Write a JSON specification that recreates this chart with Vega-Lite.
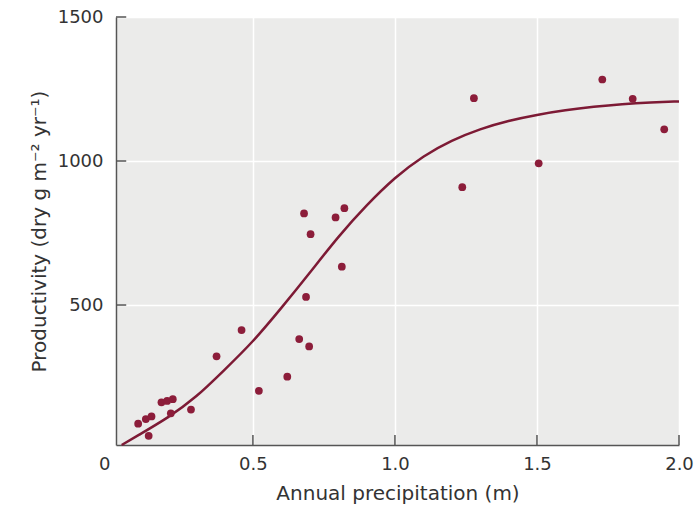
{
  "$schema": "https://vega.github.io/schema/vega-lite/v6.json",
  "width": 563,
  "height": 428,
  "autosize": {"type": "none"},
  "padding": {"left": 116, "top": 17, "right": 21, "bottom": 63},
  "background": "white",
  "datasets": {
    "sites": [
      {"precip": 0.096, "prod": 88},
      {"precip": 0.123, "prod": 104},
      {"precip": 0.143, "prod": 113},
      {"precip": 0.133, "prod": 46},
      {"precip": 0.178, "prod": 162},
      {"precip": 0.198, "prod": 167},
      {"precip": 0.218, "prod": 173},
      {"precip": 0.211, "prod": 124},
      {"precip": 0.282, "prod": 137},
      {"precip": 0.372, "prod": 322},
      {"precip": 0.46, "prod": 413},
      {"precip": 0.521, "prod": 202},
      {"precip": 0.621, "prod": 251},
      {"precip": 0.663, "prod": 382},
      {"precip": 0.698, "prod": 356},
      {"precip": 0.687, "prod": 528},
      {"precip": 0.68, "prod": 818},
      {"precip": 0.703, "prod": 746},
      {"precip": 0.791, "prod": 804},
      {"precip": 0.822, "prod": 836},
      {"precip": 0.813, "prod": 633},
      {"precip": 1.237, "prod": 909},
      {"precip": 1.278, "prod": 1218},
      {"precip": 1.506, "prod": 992},
      {"precip": 1.73, "prod": 1283},
      {"precip": 1.837, "prod": 1216},
      {"precip": 1.948, "prod": 1110}
    ],
    "fit": [
      {"precip": 0.038, "prod": 14},
      {"precip": 0.1, "prod": 50},
      {"precip": 0.2, "prod": 110},
      {"precip": 0.3, "prod": 183},
      {"precip": 0.4, "prod": 275},
      {"precip": 0.5, "prod": 375},
      {"precip": 0.6, "prod": 490},
      {"precip": 0.7, "prod": 612},
      {"precip": 0.8, "prod": 735},
      {"precip": 0.9, "prod": 845},
      {"precip": 1.0, "prod": 940},
      {"precip": 1.1, "prod": 1015},
      {"precip": 1.2, "prod": 1070},
      {"precip": 1.3, "prod": 1110},
      {"precip": 1.4, "prod": 1139},
      {"precip": 1.5, "prod": 1160},
      {"precip": 1.6, "prod": 1176},
      {"precip": 1.7, "prod": 1188},
      {"precip": 1.8, "prod": 1197},
      {"precip": 1.9, "prod": 1203},
      {"precip": 2.0, "prod": 1207}
    ],
    "xticks": [{"v": 0.5}, {"v": 1.0}, {"v": 1.5}, {"v": 2.0}],
    "yticks": [{"v": 500}, {"v": 1000}, {"v": 1500}]
  },
  "layer": [
    {
      "data": {"name": "fit"},
      "mark": {"type": "line", "interpolate": "natural", "color": "#7d1a35", "strokeWidth": 2.5},
      "encoding": {
        "x": {
          "field": "precip",
          "type": "quantitative",
          "scale": {"domain": [0.018, 2.0], "nice": false, "zero": false},
          "axis": {
            "title": "Annual precipitation (m)",
            "values": [0.018, 0.5, 1.0, 1.5, 2.0],
            "labelExpr": "datum.value < 0.1 ? '0' : format(datum.value, '.1f')",
            "labelAlign": {"condition": {"test": "datum.value < 0.1", "value": "right"}, "value": "center"},
            "labelOffset": {"condition": {"test": "datum.value < 0.1", "value": -6}, "value": 0},
            "labelFlush": false,
            "labelPadding": 10,
            "titlePadding": 10
          }
        },
        "y": {
          "field": "prod",
          "type": "quantitative",
          "scale": {"domain": [14, 1500], "nice": false, "zero": false},
          "axis": {
            "title": "Productivity (dry g m⁻² yr⁻¹)",
            "values": [500, 1000, 1500],
            "format": "d",
            "labelPadding": 13,
            "titlePadding": 8
          }
        }
      }
    },
    {
      "data": {"name": "xticks"},
      "mark": {"type": "rule", "color": "#555555", "strokeWidth": 1.5},
      "encoding": {
        "x": {"field": "v", "type": "quantitative"},
        "y": {"datum": 14, "type": "quantitative"},
        "y2": {"datum": 49}
      }
    },
    {
      "data": {"name": "yticks"},
      "mark": {"type": "rule", "color": "#555555", "strokeWidth": 1.5},
      "encoding": {
        "y": {"field": "v", "type": "quantitative"},
        "x": {"datum": 0.018, "type": "quantitative"},
        "x2": {"datum": 0.054}
      }
    },
    {
      "data": {"name": "sites"},
      "mark": {"type": "circle", "color": "#8c1d3a", "opacity": 1, "size": 60},
      "encoding": {
        "x": {"field": "precip", "type": "quantitative"},
        "y": {"field": "prod", "type": "quantitative"}
      }
    }
  ],
  "config": {
    "view": {"fill": "#ebebea", "stroke": null},
    "font": "DejaVu Sans",
    "axis": {
      "ticks": false,
      "domainColor": "#555555",
      "domainWidth": 1.5,
      "gridColor": "white",
      "gridWidth": 1.5,
      "gridOpacity": 1,
      "labelFont": "DejaVu Sans",
      "labelFontSize": 18,
      "labelColor": "#333333",
      "titleFont": "DejaVu Sans",
      "titleFontSize": 20,
      "titleFontWeight": "normal",
      "titleColor": "#333333"
    }
  }
}
